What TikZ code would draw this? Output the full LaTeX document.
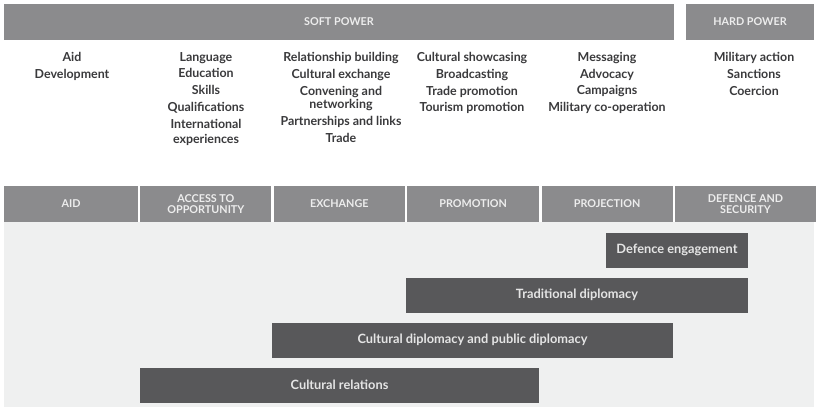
\documentclass[tikz,border=0pt]{standalone}
\usepackage{fontspec}
\setmainfont{Lato}
\usetikzlibrary{positioning}
\definecolor{hdgray}{HTML}{8B8B8D}
\definecolor{bargray}{HTML}{58585A}
\definecolor{panel}{HTML}{EFF0F0}
\definecolor{ink}{HTML}{3A3A3C}

\begin{document}
\begin{tikzpicture}[x=1pt, y=-1pt, font=\bfseries,
  band/.style = {fill=hdgray, text=white!93!black, minimum height=36pt, inner sep=0pt, font=\fontsize{10.8}{11.5}\selectfont\bfseries, align=center},
  cell/.style = {band, minimum width=131pt},
  bar/.style = {fill=bargray, text=white!90!black, minimum height=35pt, inner sep=0pt, font=\fontsize{12.8}{14}\selectfont\bfseries},
  item/.style = {text=ink, anchor=north, align=center, inner sep=0pt, font=\fontsize{12.4}{16.8}\selectfont\bfseries}]
\useasboundingbox (0,0) rectangle (818,409);
\fill[white] (0,0) rectangle (818,409);

% top bands
\node[band, minimum width=670pt] (soft) at (339,22) {SOFT POWER};
\node[band, minimum width=128pt] (hard) at (750,22) {HARD POWER};

% activities
\node[item] (aid1) at (72,52) {Aid\\Development};
\node[item] (acc1) at (206,52) {Language\\Education\\Skills\\Qualifications\\International\\[-2pt]experiences};
\node[item] (exc1) at (341,52) {Relationship building\\Cultural exchange\\Convening and\\[-3pt]networking\\Partnerships and links\\Trade};
\node[item] (pro1) at (472,52) {Cultural showcasing\\Broadcasting\\Trade promotion\\Tourism promotion};
\node[item] (prj1) at (607,52) {Messaging\\Advocacy\\Campaigns\\Military co-operation};
\node[item] (def1) at (754,52) {Military action\\Sanctions\\Coercion};

% panel
\fill[panel] (4,222) rectangle (814,407);

% column headers
\node[cell, minimum width=134pt] (aid) at (71,204) {AID};
\node[cell, right=2pt of aid] (access) {ACCESS TO\\OPPORTUNITY};
\node[cell, right=2pt of access] (exchange) {EXCHANGE};
\node[cell, right=2pt of exchange, minimum width=132pt] (promotion) {PROMOTION};
\node[cell, right=2pt of promotion] (projection) {PROJECTION};
\node[cell, right=2pt of projection, minimum width=141pt] (defence) {DEFENCE AND\\SECURITY};

% bars
\node[bar, minimum width=142pt] (defeng) at (677,250) {Defence engagement};
\node[bar, minimum width=342pt] (tradip) at (577,295) {Traditional diplomacy};
\node[bar, minimum width=401pt] (culdip) at (472.5,340) {Cultural diplomacy and public diplomacy};
\node[bar, minimum width=399pt] (culrel) at (339.5,385) {Cultural relations};
\end{tikzpicture}
\end{document}
